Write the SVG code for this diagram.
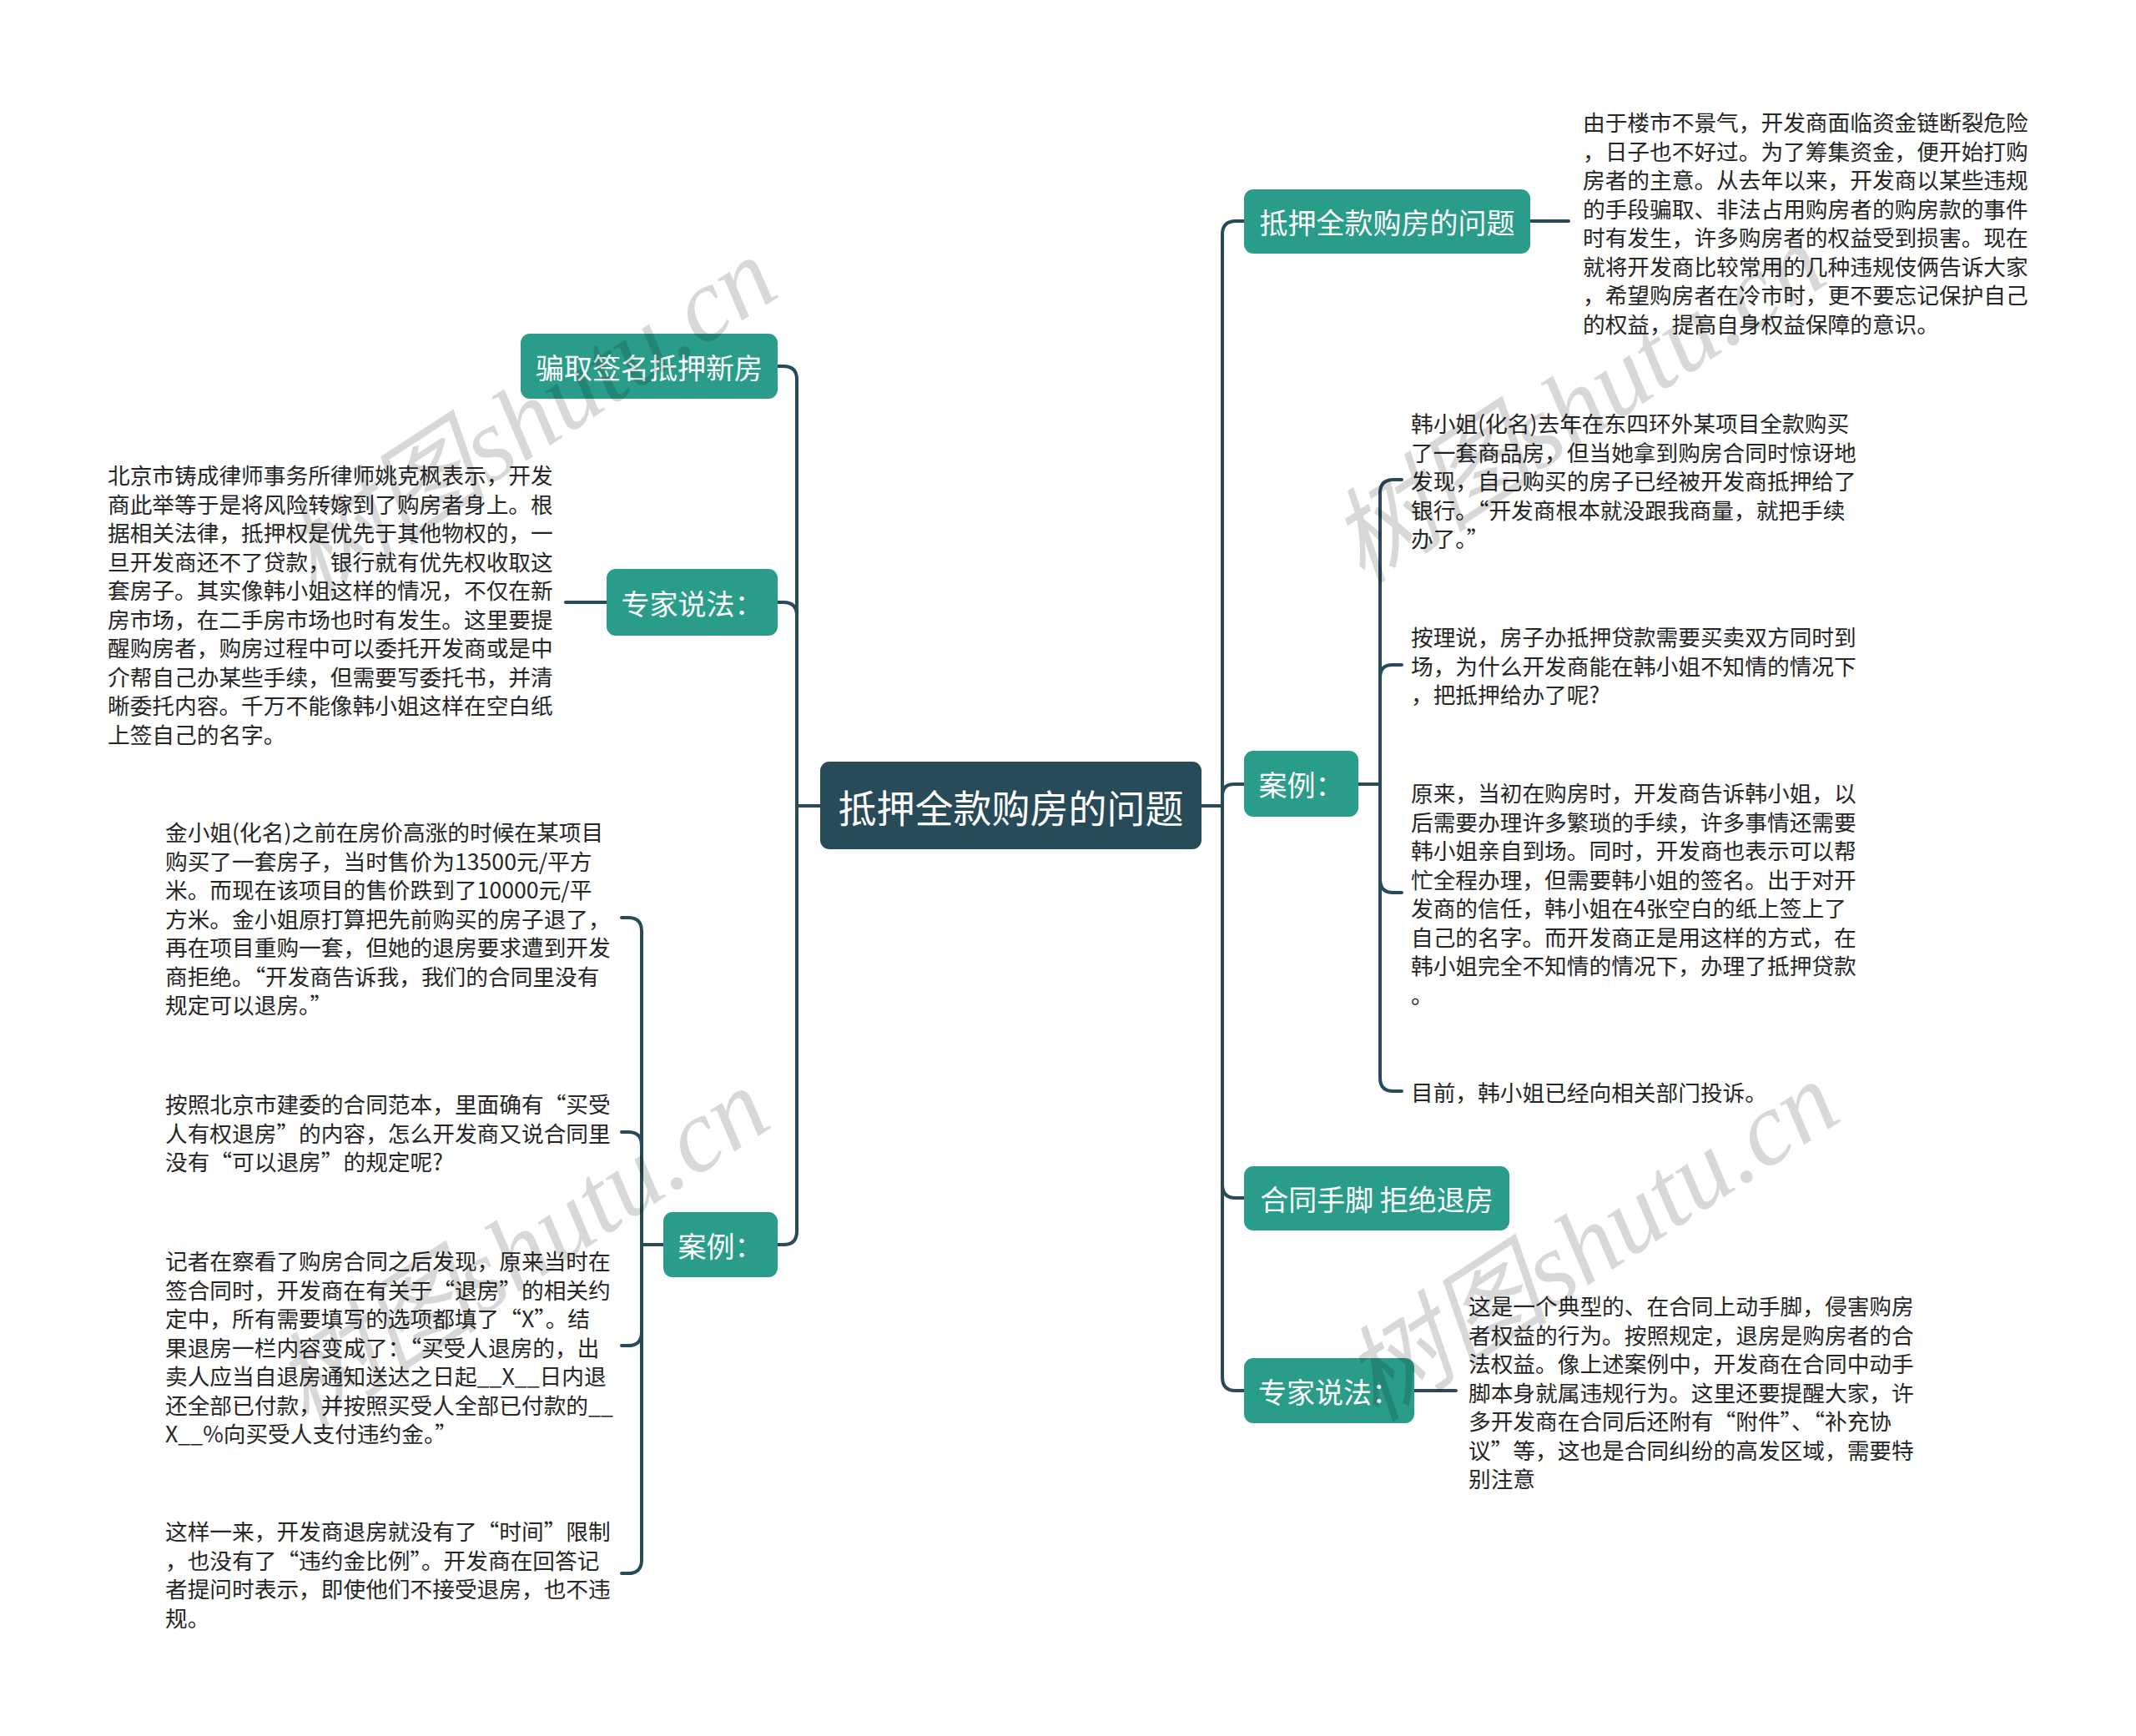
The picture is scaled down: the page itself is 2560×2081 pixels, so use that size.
<svg xmlns="http://www.w3.org/2000/svg" width="2560" height="2081" viewBox="0 0 2560 2081">
<style>
.conn{fill:none;stroke:#284b59;stroke-width:4;stroke-linecap:round}
.root rect{fill:#284b59}
.topic rect{fill:#2a9d8a}
.root text{fill:#fff;font-size:46px;text-anchor:middle;dominant-baseline:central}
.topic text{fill:#fff;font-size:34px;text-anchor:middle;dominant-baseline:central}
text{font-family:"Noto Sans CJK SC","Noto Sans",sans-serif}
.leaf text{fill:#262626;font-size:26.7px;dominant-baseline:central}
.wm{font-family:"Liberation Serif","Noto Sans CJK SC",serif;font-style:italic;font-size:125px;fill:#000;opacity:0.15}
</style>
<rect width="2560" height="2081" fill="#fff"/>
<g id="connectors">
<path class="conn" d="M1440 966 H1465 V281 Q1465 265 1481 265 H1491"/>
<path class="conn" d="M1440 966 H1465 V954 Q1465 940 1479 940 H1491"/>
<path class="conn" d="M1440 966 H1465 V1420 Q1465 1436 1481 1436 H1491"/>
<path class="conn" d="M1440 966 H1465 V1651 Q1465 1667 1481 1667 H1491"/>
<path class="conn" d="M1834 265 H1880"/>
<path class="conn" d="M1695 1667 H1745"/>
<path class="conn" d="M1628 940 H1654 V591 Q1654 575 1670 575 H1680"/>
<path class="conn" d="M1628 940 H1654 V812 Q1654 797 1669 797 H1680"/>
<path class="conn" d="M1628 940 H1654 V1054 Q1654 1070 1670 1070 H1680"/>
<path class="conn" d="M1628 940 H1654 V1292 Q1654 1308 1670 1308 H1680"/>
<path class="conn" d="M983 966 H955 V455 Q955 439 939 439 H932"/>
<path class="conn" d="M983 966 H955 V738 Q955 722 939 722 H932"/>
<path class="conn" d="M983 966 H955 V1476 Q955 1492 939 1492 H932"/>
<path class="conn" d="M727 722 H678"/>
<path class="conn" d="M795 1492 H769 V1116 Q769 1100 753 1100 H745"/>
<path class="conn" d="M795 1492 H769 V1373 Q769 1357 753 1357 H745"/>
<path class="conn" d="M795 1492 H769 V1597 Q769 1613 753 1613 H745"/>
<path class="conn" d="M795 1492 H769 V1870 Q769 1886 753 1886 H745"/>
</g>
<g id="root" class="root"><rect x="983" y="913" width="457" height="105" rx="11"/><text x="1211.5" y="966">抵押全款购房的问题</text></g>
<g id="r1" class="topic"><rect x="1491" y="227" width="343" height="77" rx="11"/><text x="1662.5" y="265.5">抵押全款购房的问题</text></g>
<g id="r2" class="topic"><rect x="1491" y="900" width="137" height="79" rx="11"/><text x="1559.5" y="939.5">案例：</text></g>
<g id="r3" class="topic"><rect x="1491" y="1398" width="318" height="77" rx="11"/><text x="1650" y="1436.5">合同手脚 拒绝退房</text></g>
<g id="r4" class="topic"><rect x="1491" y="1628" width="204" height="78" rx="11"/><text x="1593" y="1667">专家说法：</text></g>
<g id="l1" class="topic"><rect x="624" y="400" width="308" height="78" rx="11"/><text x="778" y="439">骗取签名抵押新房</text></g>
<g id="l2" class="topic"><rect x="727" y="682" width="205" height="80" rx="11"/><text x="829.5" y="722">专家说法：</text></g>
<g id="l3" class="topic"><rect x="795" y="1453" width="137" height="78" rx="11"/><text x="863.5" y="1492">案例：</text></g>
<g id="r1-text" class="leaf"><text>
<tspan x="1897" y="145">由于楼市不景气，开发商面临资金链断裂危险</tspan>
<tspan x="1897" y="179.5">，日子也不好过。为了筹集资金，便开始打购</tspan>
<tspan x="1897" y="214">房者的主意。从去年以来，开发商以某些违规</tspan>
<tspan x="1897" y="248.5">的手段骗取、非法占用购房者的购房款的事件</tspan>
<tspan x="1897" y="283">时有发生，许多购房者的权益受到损害。现在</tspan>
<tspan x="1897" y="317.5">就将开发商比较常用的几种违规伎俩告诉大家</tspan>
<tspan x="1897" y="352">，希望购房者在冷市时，更不要忘记保护自己</tspan>
<tspan x="1897" y="386.5">的权益，提高自身权益保障的意识。</tspan>
</text></g>
<g id="r2-a" class="leaf"><text>
<tspan x="1691" y="506">韩小姐(化名)去年在东四环外某项目全款购买</tspan>
<tspan x="1691" y="540.5">了一套商品房，但当她拿到购房合同时惊讶地</tspan>
<tspan x="1691" y="575">发现，自己购买的房子已经被开发商抵押给了</tspan>
<tspan x="1691" y="609.5">银行。“开发商根本就没跟我商量，就把手续</tspan>
<tspan x="1691" y="644">办了。”</tspan>
</text></g>
<g id="r2-b" class="leaf"><text>
<tspan x="1691" y="762">按理说，房子办抵押贷款需要买卖双方同时到</tspan>
<tspan x="1691" y="796.5">场，为什么开发商能在韩小姐不知情的情况下</tspan>
<tspan x="1691" y="831">，把抵押给办了呢?</tspan>
</text></g>
<g id="r2-c" class="leaf"><text>
<tspan x="1691" y="949">原来，当初在购房时，开发商告诉韩小姐，以</tspan>
<tspan x="1691" y="983.5">后需要办理许多繁琐的手续，许多事情还需要</tspan>
<tspan x="1691" y="1018">韩小姐亲自到场。同时，开发商也表示可以帮</tspan>
<tspan x="1691" y="1052.5">忙全程办理，但需要韩小姐的签名。出于对开</tspan>
<tspan x="1691" y="1087">发商的信任，韩小姐在4张空白的纸上签上了</tspan>
<tspan x="1691" y="1121.5">自己的名字。而开发商正是用这样的方式，在</tspan>
<tspan x="1691" y="1156">韩小姐完全不知情的情况下，办理了抵押贷款</tspan>
<tspan x="1691" y="1190.5">。</tspan>
</text></g>
<g id="r2-d" class="leaf"><text x="1691" y="1308">目前，韩小姐已经向相关部门投诉。</text></g>
<g id="r4-text" class="leaf"><text>
<tspan x="1760" y="1564">这是一个典型的、在合同上动手脚，侵害购房</tspan>
<tspan x="1760" y="1598.5">者权益的行为。按照规定，退房是购房者的合</tspan>
<tspan x="1760" y="1633">法权益。像上述案例中，开发商在合同中动手</tspan>
<tspan x="1760" y="1667.5">脚本身就属违规行为。这里还要提醒大家，许</tspan>
<tspan x="1760" y="1702">多开发商在合同后还附有“附件”、“补充协</tspan>
<tspan x="1760" y="1736.5">议”等，这也是合同纠纷的高发区域，需要特</tspan>
<tspan x="1760" y="1771">别注意</tspan>
</text></g>
<g id="l2-text" class="leaf"><text>
<tspan x="129" y="568">北京市铸成律师事务所律师姚克枫表示，开发</tspan>
<tspan x="129" y="602.5">商此举等于是将风险转嫁到了购房者身上。根</tspan>
<tspan x="129" y="637">据相关法律，抵押权是优先于其他物权的，一</tspan>
<tspan x="129" y="671.5">旦开发商还不了贷款，银行就有优先权收取这</tspan>
<tspan x="129" y="706">套房子。其实像韩小姐这样的情况，不仅在新</tspan>
<tspan x="129" y="740.5">房市场，在二手房市场也时有发生。这里要提</tspan>
<tspan x="129" y="775">醒购房者，购房过程中可以委托开发商或是中</tspan>
<tspan x="129" y="809.5">介帮自己办某些手续，但需要写委托书，并清</tspan>
<tspan x="129" y="844">晰委托内容。千万不能像韩小姐这样在空白纸</tspan>
<tspan x="129" y="878.5">上签自己的名字。</tspan>
</text></g>
<g id="l3-a" class="leaf"><text>
<tspan x="198" y="996">金小姐(化名)之前在房价高涨的时候在某项目</tspan>
<tspan x="198" y="1030.5">购买了一套房子，当时售价为13500元/平方</tspan>
<tspan x="198" y="1065">米。而现在该项目的售价跌到了10000元/平</tspan>
<tspan x="198" y="1099.5">方米。金小姐原打算把先前购买的房子退了，</tspan>
<tspan x="198" y="1134">再在项目重购一套，但她的退房要求遭到开发</tspan>
<tspan x="198" y="1168.5">商拒绝。“开发商告诉我，我们的合同里没有</tspan>
<tspan x="198" y="1203">规定可以退房。”</tspan>
</text></g>
<g id="l3-b" class="leaf"><text>
<tspan x="198" y="1322">按照北京市建委的合同范本，里面确有“买受</tspan>
<tspan x="198" y="1356.5">人有权退房”的内容，怎么开发商又说合同里</tspan>
<tspan x="198" y="1391">没有“可以退房”的规定呢?</tspan>
</text></g>
<g id="l3-c" class="leaf"><text>
<tspan x="198" y="1510">记者在察看了购房合同之后发现，原来当时在</tspan>
<tspan x="198" y="1544.5">签合同时，开发商在有关于“退房”的相关约</tspan>
<tspan x="198" y="1579">定中，所有需要填写的选项都填了“X”。结</tspan>
<tspan x="198" y="1613.5">果退房一栏内容变成了：“买受人退房的，出</tspan>
<tspan x="198" y="1648">卖人应当自退房通知送达之日起__X__日内退</tspan>
<tspan x="198" y="1682.5">还全部已付款，并按照买受人全部已付款的__</tspan>
<tspan x="198" y="1717">X__%向买受人支付违约金。”</tspan>
</text></g>
<g id="l3-d" class="leaf"><text>
<tspan x="198" y="1834">这样一来，开发商退房就没有了“时间”限制</tspan>
<tspan x="198" y="1868.5">，也没有了“违约金比例”。开发商在回答记</tspan>
<tspan x="198" y="1903">者提问时表示，即使他们不接受退房，也不违</tspan>
<tspan x="198" y="1937.5">规。</tspan>
</text></g>
<g id="watermarks">
<text class="wm" transform="translate(376 718) rotate(-33)">树图shutu.cn</text>
<text class="wm" transform="translate(367 1714) rotate(-33)">树图shutu.cn</text>
<text class="wm" transform="translate(1633 702) rotate(-33)">树图shutu.cn</text>
<text class="wm" transform="translate(1649 1706) rotate(-33)">树图shutu.cn</text>
</g>
</svg>
